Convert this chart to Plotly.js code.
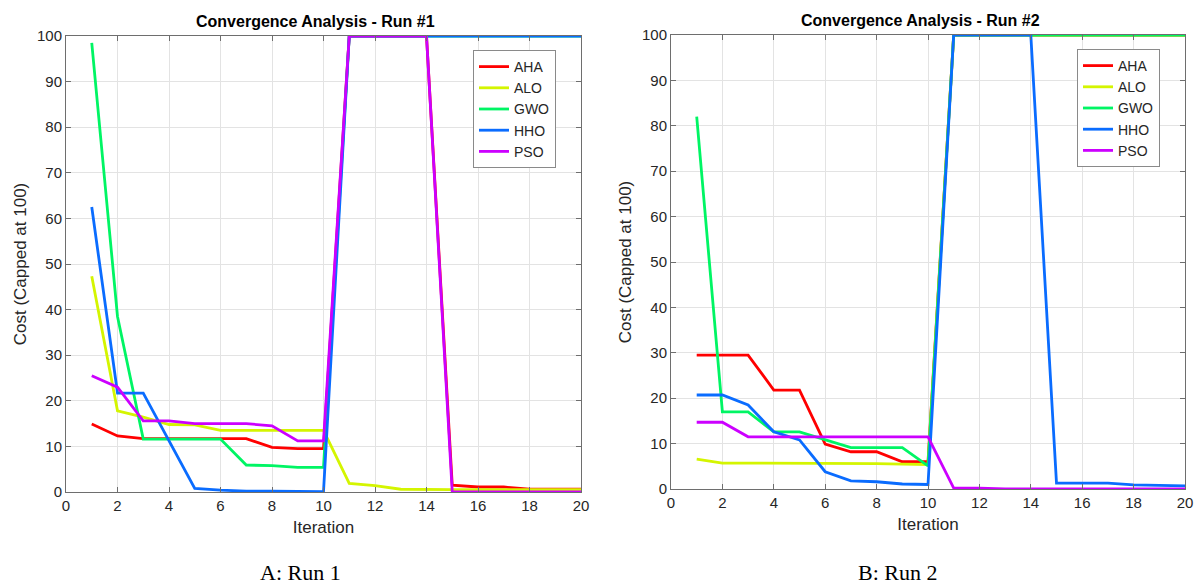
<!DOCTYPE html>
<html>
<head>
<meta charset="utf-8">
<script src="https://cdn.plot.ly/plotly-3.0.1.min.js"></script>
<style>
  html, body { margin: 0; padding: 0; background: #fff; }
  #chart { width: 1200px; height: 585px; }
</style>
</head>
<body>
<div id="chart"></div>
<script>
// Iteration index shared by both runs
const iterations = [1,2,3,4,5,6,7,8,9,10,11,12,13,14,15,16,17,18,19,20];
const algorithms = ['AHA', 'ALO', 'GWO', 'HHO', 'PSO'];

// Run #1 cost per iteration (capped at 100)
const run1_AHA = [14.9,12.3,11.7,11.7,11.7,11.7,11.7,9.8,9.5,9.5,100,100,100,100,1.5,1.1,1.1,0.6,0.6,0.6];
const run1_ALO = [47.3,17.8,16.4,14.8,14.7,13.5,13.5,13.5,13.5,13.5,1.9,1.4,0.6,0.5,0.5,0.5,0.5,0.5,0.5,0.5];
const run1_GWO = [98.5,38.5,11.6,11.6,11.6,11.6,5.9,5.8,5.4,5.4,100,100,100,100,100,100,100,100,100,100];
const run1_HHO = [62.5,21.7,21.7,11.2,0.8,0.4,0.2,0.2,0.1,0.1,100,100,100,100,100,100,100,100,100,100];
const run1_PSO = [25.5,23.0,15.6,15.6,15.0,15.0,15.0,14.5,11.2,11.2,100,100,100,100,0,0,0,0,0,0];

// Run #2 cost per iteration (capped at 100)
const run2_AHA = [29.5,29.5,29.5,21.8,21.8,9.9,8.2,8.2,6.0,6.0,100,100,100,100,100,100,100,100,100,100];
const run2_ALO = [6.6,5.7,5.7,5.7,5.7,5.7,5.7,5.6,5.5,5.4,100,100,100,100,100,100,100,100,100,100];
const run2_GWO = [82.0,17.0,17.0,12.6,12.6,10.8,9.1,9.1,9.1,5.1,100,100,100,100,100,100,100,100,100,100];
const run2_HHO = [20.7,20.7,18.5,12.6,10.8,3.8,1.8,1.6,1.1,1.0,100,100,100,100,1.3,1.3,1.3,0.9,0.8,0.7];
const run2_PSO = [14.7,14.7,11.5,11.5,11.5,11.5,11.5,11.5,11.5,11.5,0.2,0.2,0,0,0,0,0,0,0,0];

const subplotTitles = ['Convergence Analysis - Run #1', 'Convergence Analysis - Run #2'];
const captions = ['A: Run 1', 'B: Run 2'];
const xTitle = 'Iteration';
const yTitle = 'Cost (Capped at 100)';

const colors = ['#ff0000', '#d4f500', '#00f564', '#0a6cff', '#cc00ff'];
const run1 = [run1_AHA, run1_ALO, run1_GWO, run1_HHO, run1_PSO];
const run2 = [run2_AHA, run2_ALO, run2_GWO, run2_HHO, run2_PSO];

const W = 1200, H = 585;
const px = v => v / W;
const py = v => 1 - v / H;

const traces = [];
algorithms.forEach((name, i) => {
  traces.push({
    x: iterations, y: run1[i], name: name, type: 'scatter', mode: 'lines',
    line: { color: colors[i], width: 2.8 },
    xaxis: 'x', yaxis: 'y', legend: 'legend'
  });
});
algorithms.forEach((name, i) => {
  traces.push({
    x: iterations, y: run2[i], name: name, type: 'scatter', mode: 'lines',
    line: { color: colors[i], width: 2.8 },
    xaxis: 'x2', yaxis: 'y2', legend: 'legend2'
  });
});

const tickFont = { family: '"Liberation Sans Narrow", Arial, sans-serif', size: 15, color: '#262626' };
const titleFont = { family: '"Liberation Sans Narrow", Arial, sans-serif', size: 17, color: '#262626' };

function xAxis(domain, anchor) {
  return {
    domain: domain, anchor: anchor, range: [0, 20], dtick: 2, tick0: 0,
    showgrid: true, gridcolor: '#e3e3e3', gridwidth: 1, zeroline: false,
    showline: true, linecolor: '#6e6e6e', linewidth: 1, mirror: 'ticks',
    ticks: 'inside', ticklen: 5, tickcolor: '#6e6e6e',
    tickfont: tickFont,
    title: { text: xTitle, font: titleFont, standoff: 8 }
  };
}
function yAxis(domain, anchor) {
  return {
    domain: domain, anchor: anchor, range: [0, 100], dtick: 10, tick0: 0,
    showgrid: true, gridcolor: '#e3e3e3', gridwidth: 1, zeroline: false,
    showline: true, linecolor: '#6e6e6e', linewidth: 1, mirror: 'ticks',
    ticks: 'inside', ticklen: 5, tickcolor: '#6e6e6e',
    tickfont: tickFont,
    title: { text: yTitle, font: titleFont, standoff: 6 }
  };
}

const legendStyle = {
  bgcolor: '#ffffff', bordercolor: '#8a8a8a', borderwidth: 1,
  font: { family: 'Arial, "Liberation Sans", sans-serif', size: 14, color: '#262626' },
  xanchor: 'left', yanchor: 'top', tracegroupgap: 0, itemwidth: 30
};

const layout = {
  width: W, height: H,
  margin: { l: 0, r: 0, t: 0, b: 0 },
  paper_bgcolor: '#ffffff', plot_bgcolor: '#ffffff',
  showlegend: true,
  xaxis: xAxis([px(66), px(581)], 'y'),
  yaxis: yAxis([py(492), py(36)], 'x'),
  xaxis2: xAxis([px(671), px(1185)], 'y2'),
  yaxis2: yAxis([py(489), py(35)], 'x2'),
  legend: Object.assign({ x: px(473), y: py(50) }, legendStyle),
  legend2: Object.assign({ x: px(1077), y: py(49) }, legendStyle),
  annotations: [
    { text: '<b>' + subplotTitles[0] + '</b>', x: px(316), y: py(22), xref: 'paper', yref: 'paper',
      showarrow: false, xanchor: 'center', yanchor: 'middle',
      font: { family: 'Arial, "Liberation Sans", sans-serif', size: 16, color: '#000' } },
    { text: '<b>' + subplotTitles[1] + '</b>', x: px(920), y: py(21), xref: 'paper', yref: 'paper',
      showarrow: false, xanchor: 'center', yanchor: 'middle',
      font: { family: 'Arial, "Liberation Sans", sans-serif', size: 16, color: '#000' } },
    { text: captions[0], x: px(300), y: py(572), xref: 'paper', yref: 'paper',
      showarrow: false, xanchor: 'center', yanchor: 'middle',
      font: { family: '"Liberation Serif", "Times New Roman", serif', size: 22, color: '#000' } },
    { text: captions[1], x: px(897), y: py(572), xref: 'paper', yref: 'paper',
      showarrow: false, xanchor: 'center', yanchor: 'middle',
      font: { family: '"Liberation Serif", "Times New Roman", serif', size: 22, color: '#000' } }
  ]
};

Plotly.newPlot('chart', traces, layout, { displayModeBar: false, staticPlot: true });
</script>
</body>
</html>
